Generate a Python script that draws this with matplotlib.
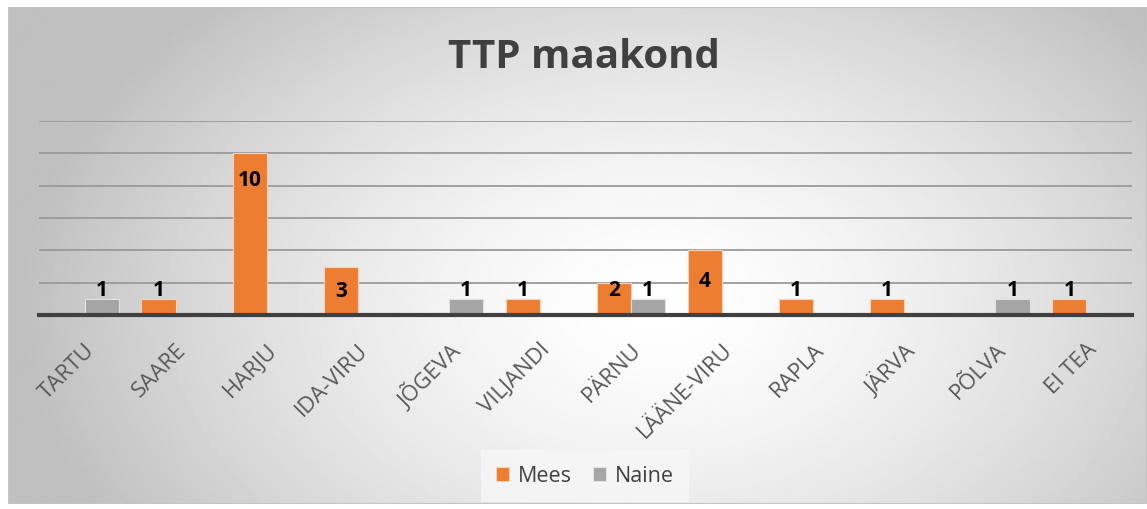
import numpy as np
import matplotlib
matplotlib.use("Agg")
import matplotlib.pyplot as plt
from matplotlib.patches import Rectangle

plt.rcParams['font.family'] = ['Open Sans', 'DejaVu Sans']

# data
categories = ['TARTU', 'SAARE', 'HARJU', 'IDA-VIRU', 'JÕGEVA', 'VILJANDI',
              'PÄRNU', 'LÄÄNE-VIRU', 'RAPLA', 'JÄRVA', 'PÕLVA', 'EI TEA']
mees = [0, 1, 10, 3, 0, 1, 2, 4, 1, 1, 0, 1]
naine = [1, 0, 0, 0, 1, 0, 1, 0, 0, 0, 1, 0]

# label heights (data units) as placed in the original
label_y_mees = [0, 1.6, 8.4, 1.5, 0, 1.6, 1.55, 2.15, 1.6, 1.6, 0, 1.6]
label_y_naine = [1.6, 0, 0, 0, 1.6, 0, 1.6, 0, 0, 0, 1.6, 0]

orange = '#ED7D31'
gray = '#A5A5A5'

W, H = 1147, 510
fig = plt.figure(figsize=(W / 100, H / 100), dpi=100)

# radial gradient background panel
bg = fig.add_axes([8 / W, 5 / H, (W - 8) / W, (H - 13) / H])
yy, xx = np.mgrid[0:500, 0:1140]
r = np.sqrt(((xx - 650) / 640.0) ** 2 + ((yy - 300) / 430.0) ** 2)
shade = 1 - 0.25 * np.clip(r, 0, 1) ** 1.5
bg.imshow(shade, cmap='gray', vmin=0, vmax=1, aspect='auto', extent=[0, 1, 0, 1])
bg.add_patch(Rectangle((0, 0), 1, 1, transform=bg.transAxes, fill=False,
                       edgecolor='#c4c4c4', linewidth=1.5))
bg.set_axis_off()

ax = fig.add_axes([39 / W, 1 - 316 / H, (1132 - 39) / W, (316 - 122) / H])
ax.patch.set_alpha(0)

x = np.arange(len(categories))
w = 0.375
ax.bar(x - w / 2, mees, w, color=orange, edgecolor='#f6d3bd', linewidth=0.8, label='Mees', zorder=3)
ax.bar(x + w / 2, naine, w, color=gray, edgecolor='#e2e2e2', linewidth=0.8, label='Naine', zorder=3)

for i in range(len(categories)):
    if mees[i] > 0:
        ax.text(x[i] - w / 2, label_y_mees[i], str(mees[i]), ha='center', va='center',
                fontsize=15, fontweight='bold', color='black', zorder=4)
    if naine[i] > 0:
        ax.text(x[i] + w / 2, label_y_naine[i], str(naine[i]), ha='center', va='center',
                fontsize=15, fontweight='bold', color='black', zorder=4)

ax.set_xlim(-0.5, len(categories) - 0.5)
ax.set_ylim(0, 12)
ax.set_yticks(np.arange(2, 13, 2))
ax.yaxis.grid(True, color='#9a9a9a', linewidth=1.3, zorder=0)
ax.tick_params(axis='y', left=False, labelleft=False)
ax.set_xticks(x)
ax.set_xticklabels(categories, rotation=45, ha='right', rotation_mode='anchor',
                   fontsize=16, color='#595959')
ax.tick_params(axis='x', length=0, pad=17)
for s in ['top', 'right', 'left']:
    ax.spines[s].set_visible(False)
ax.spines['bottom'].set_color('#404040')
ax.spines['bottom'].set_linewidth(3)
ax.spines['bottom'].set_zorder(5)

fig.text(584 / W, 1 - 58 / H, 'TTP maakond', ha='center', va='center',
         fontsize=29, fontweight='bold', color='#404040')

leg = fig.legend(loc='center', bbox_to_anchor=(585 / W, 1 - 477 / H), ncol=2,
                 frameon=True, fontsize=15.5, handlelength=0.6, handleheight=0.6,
                 handletextpad=0.4, columnspacing=1.0, borderpad=0.7)
leg.get_frame().set_facecolor('#f7f7f7')
leg.get_frame().set_edgecolor('none')
leg.get_frame().set_boxstyle('square', pad=0)
for t in leg.get_texts():
    t.set_color('#404040')

fig.savefig('out.png', dpi=100)
